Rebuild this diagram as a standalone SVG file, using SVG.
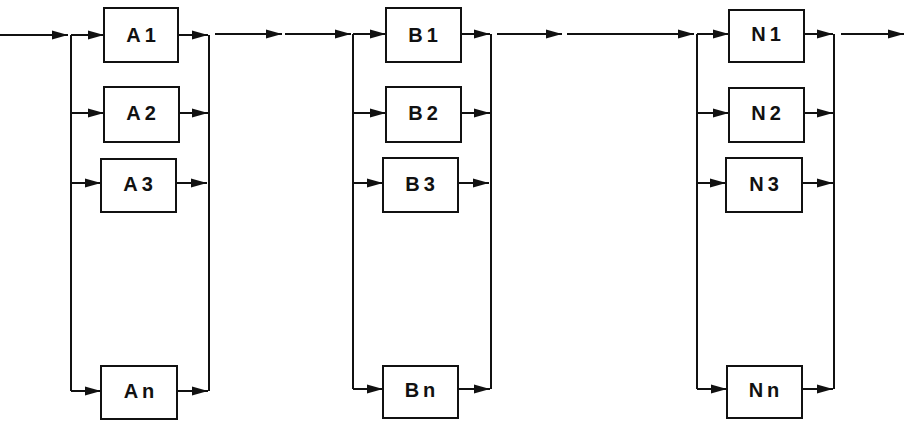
<svg xmlns="http://www.w3.org/2000/svg" width="906" height="446" viewBox="0 0 906 446">
<style>
.box{fill:#fff;stroke:#111;stroke-width:2}
.lbl{font-family:"Liberation Sans",Arial,sans-serif;font-weight:bold;font-size:20px;fill:#111;text-anchor:middle;letter-spacing:4px}
.ln{stroke:#111;stroke-width:2;fill:none}
.ar{stroke:#111;stroke-width:2;fill:none;marker-end:url(#ah)}
</style>
<defs>
<marker id="ah" markerUnits="userSpaceOnUse" markerWidth="18" markerHeight="12" refX="16" refY="6" orient="auto">
<path d="M0,1.5 L16,6 L0,10.5 Z" fill="#111"/>
</marker>
</defs>
<g id="connectors">
<line class="ar" x1="0" y1="35" x2="68" y2="35"/>
<polyline class="ln" points="71,35 71,391"/>
<line class="ar" x1="71" y1="35" x2="104" y2="35"/>
<line class="ar" x1="71" y1="113" x2="104" y2="113"/>
<line class="ar" x1="71" y1="183" x2="101" y2="183"/>
<line class="ar" x1="71" y1="391" x2="101" y2="391"/>
<line class="ar" x1="178" y1="35" x2="208" y2="35"/>
<line class="ar" x1="179" y1="113" x2="208" y2="113"/>
<line class="ar" x1="176" y1="183" x2="207" y2="183"/>
<line class="ar" x1="177" y1="391" x2="208" y2="391"/>
<polyline class="ln" points="209,35 209,391"/>
<line class="ar" x1="215" y1="34" x2="282" y2="34"/>
<line class="ar" x1="285" y1="34" x2="351" y2="34"/>
<polyline class="ln" points="353,34 353,389"/>
<line class="ar" x1="353" y1="34" x2="386" y2="34"/>
<line class="ar" x1="353" y1="113" x2="386" y2="113"/>
<line class="ar" x1="353" y1="183" x2="383" y2="183"/>
<line class="ar" x1="353" y1="389" x2="383" y2="389"/>
<line class="ar" x1="461" y1="34" x2="490" y2="34"/>
<line class="ar" x1="461" y1="113" x2="490" y2="113"/>
<line class="ar" x1="458" y1="183" x2="489" y2="183"/>
<line class="ar" x1="458" y1="389" x2="490" y2="389"/>
<polyline class="ln" points="491,34 491,389"/>
<line class="ar" x1="497" y1="34" x2="562" y2="34"/>
<line class="ar" x1="567" y1="34" x2="694" y2="34"/>
<polyline class="ln" points="697,34 697,389"/>
<line class="ar" x1="697" y1="34" x2="729" y2="34"/>
<line class="ar" x1="697" y1="113" x2="729" y2="113"/>
<line class="ar" x1="697" y1="183" x2="726" y2="183"/>
<line class="ar" x1="697" y1="389" x2="727" y2="389"/>
<line class="ar" x1="804" y1="34" x2="833" y2="34"/>
<line class="ar" x1="804" y1="113" x2="833" y2="113"/>
<line class="ar" x1="802" y1="183" x2="833" y2="183"/>
<line class="ar" x1="802" y1="389" x2="833" y2="389"/>
<polyline class="ln" points="834,34 834,389"/>
<line class="ar" x1="841" y1="34" x2="904" y2="34"/>
</g>
<g id="A1"><rect class="box" x="104" y="8" width="74" height="54"/><text class="lbl" x="143" y="42">A1</text></g>
<g id="A2"><rect class="box" x="104" y="87" width="75" height="55"/><text class="lbl" x="143" y="120">A2</text></g>
<g id="A3"><rect class="box" x="101" y="159" width="75" height="53"/><text class="lbl" x="140" y="191">A3</text></g>
<g id="An"><rect class="box" x="101" y="366" width="76" height="53"/><text class="lbl" x="141" y="398">An</text></g>
<g id="B1"><rect class="box" x="386" y="8" width="75" height="54"/><text class="lbl" x="425" y="42">B1</text></g>
<g id="B2"><rect class="box" x="386" y="87" width="75" height="55"/><text class="lbl" x="425" y="120">B2</text></g>
<g id="B3"><rect class="box" x="383" y="158" width="75" height="54"/><text class="lbl" x="422" y="191">B3</text></g>
<g id="Bn"><rect class="box" x="383" y="366" width="75" height="52"/><text class="lbl" x="422" y="397">Bn</text></g>
<g id="N1"><rect class="box" x="729" y="10" width="75" height="52"/><text class="lbl" x="768" y="41">N1</text></g>
<g id="N2"><rect class="box" x="729" y="88" width="75" height="54"/><text class="lbl" x="768" y="120">N2</text></g>
<g id="N3"><rect class="box" x="726" y="158" width="76" height="54"/><text class="lbl" x="766" y="191">N3</text></g>
<g id="Nn"><rect class="box" x="727" y="366" width="75" height="52"/><text class="lbl" x="766" y="397">Nn</text></g>
</svg>
